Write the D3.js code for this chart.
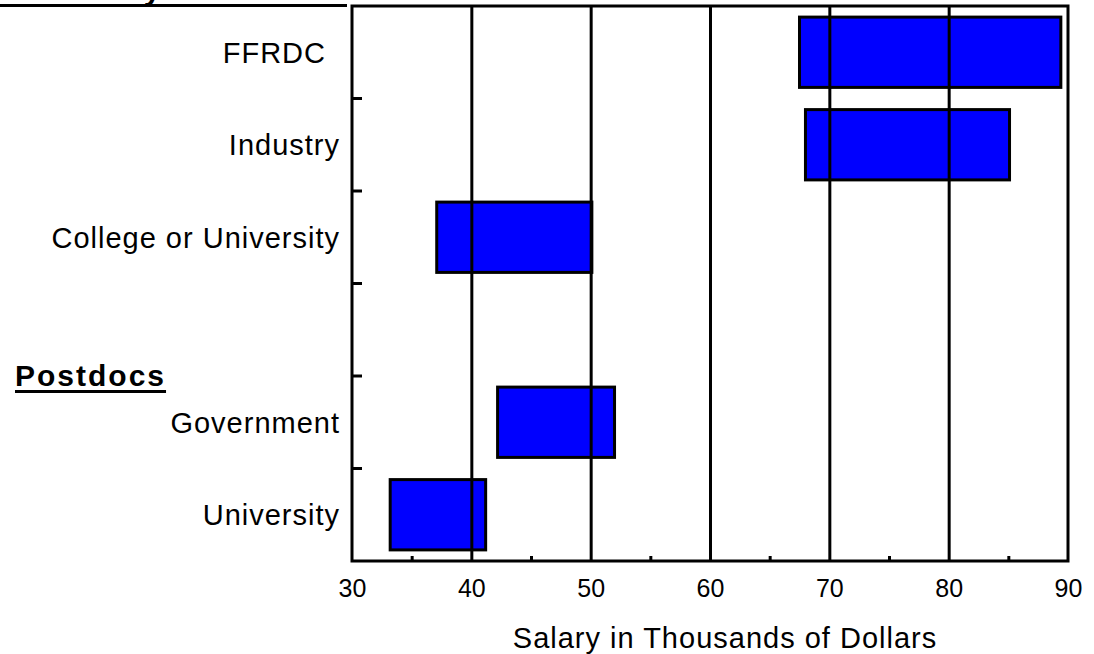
<!DOCTYPE html>
<html>
<head>
<meta charset="utf-8">
<script src="https://cdn.jsdelivr.net/npm/d3@7"></script>
<style>
  body { margin: 0; background: #ffffff; }
  text { font-family: "Liberation Sans", Arial, sans-serif; fill: #000000; }
</style>
</head>
<body>
<svg id="chart"></svg>
<script>
// Chart data
const categories = ["FFRDC", "Industry", "College or University", "", "Government", "University"];
const lowValues = [67.5, 68.0, 37.1, null, 42.2, 33.2];
const highValues = [89.4, 85.1, 50.1, null, 52.0, 41.2];
const xTickValues = [30, 40, 50, 60, 70, 80, 90];
const gridValues = [40, 50, 60, 70, 80];
const minorTickValues = [35, 45, 55, 65, 75, 85];
const groupLabels = ["Formerly Postdocs", "Postdocs"];
const axisTitle = "Salary in Thousands of Dollars";

// SVG dimensions
let width = 1094, height = 654;
let plotLeft = 352, plotRight = 1068, plotTop = 6, plotBottom = 561;

let svg = d3.select('#chart')
    .attr('width', width)
    .attr('height', height);

// Scales
let xScale = d3.scaleLinear()
    .domain([30, 90])
    .range([plotLeft, plotRight]);

let yScale = d3.scaleBand()
    .domain(categories)
    .range([plotTop, plotBottom])
    .padding(0);

let step = yScale.step();
let barHeight = step * 0.76;

// Rows built from the arrays
let rows = categories.map((c, i) => ({ name: c, low: lowValues[i], high: highValues[i] }));

// Bars
svg.append('g')
    .selectAll('rect')
    .data(rows.filter(d => d.low !== null))
    .enter()
    .append('rect')
    .attr('x', d => xScale(d.low))
    .attr('width', d => xScale(d.high) - xScale(d.low))
    .attr('y', d => yScale(d.name) + (step - barHeight) / 2)
    .attr('height', barHeight)
    .attr('fill', '#0000ff')
    .attr('stroke', '#000000')
    .attr('stroke-width', 3);

// Gridlines (drawn over the bars)
let grid = d3.axisBottom(xScale)
    .tickValues(gridValues)
    .tickSize(-(plotBottom - plotTop))
    .tickFormat('');
svg.append('g')
    .attr('transform', `translate(0, ${plotBottom})`)
    .call(grid)
    .call(g => g.select('.domain').remove())
    .call(g => g.selectAll('line').attr('stroke', '#000').attr('stroke-width', 3));

// Minor ticks
let minor = d3.axisBottom(xScale)
    .tickValues(minorTickValues)
    .tickSize(-5)
    .tickFormat('');
svg.append('g')
    .attr('transform', `translate(0, ${plotBottom})`)
    .call(minor)
    .call(g => g.select('.domain').remove())
    .call(g => g.selectAll('line').attr('stroke', '#000').attr('stroke-width', 3));

// X axis labels
let xAxis = d3.axisBottom(xScale)
    .tickValues(xTickValues)
    .tickSize(0)
    .tickFormat(d3.format('d'));
svg.append('g')
    .attr('transform', `translate(0, ${plotBottom})`)
    .call(xAxis)
    .call(g => g.select('.domain').remove())
    .call(g => g.selectAll('text')
        .attr('y', 36)
        .attr('dy', null)
        .attr('fill', '#000')
        .style('font-size', '25px')
        .style('font-family', '"Liberation Sans", Arial, sans-serif'));

// Frame
svg.append('rect')
    .attr('x', plotLeft)
    .attr('y', plotTop)
    .attr('width', plotRight - plotLeft)
    .attr('height', plotBottom - plotTop)
    .attr('fill', 'none')
    .attr('stroke', '#000')
    .attr('stroke-width', 3);

// Y ticks between the category slots
svg.append('g')
    .selectAll('line')
    .data(categories.slice(1))
    .enter()
    .append('line')
    .attr('x1', plotLeft)
    .attr('x2', plotLeft + 10)
    .attr('y1', d => yScale(d))
    .attr('y2', d => yScale(d))
    .attr('stroke', '#000')
    .attr('stroke-width', 3);

// Category labels
svg.append('g')
    .selectAll('text')
    .data(rows.filter(d => d.name !== ''))
    .enter()
    .append('text')
    .attr('x', d => d.name === 'FFRDC' ? 326 : 340)
    .attr('y', d => yScale(d.name) + step / 2 + 10.5)
    .attr('text-anchor', 'end')
    .style('font-size', '29px')
    .style('letter-spacing', '1px')
    .text(d => d.name);

// Group headings, bold and underlined
function heading(label, x, y, fitWidth) {
    let t = svg.append('text')
        .attr('x', x)
        .attr('y', y)
        .style('font-size', '30px')
        .style('font-weight', 'bold')
        .style('letter-spacing', '2px')
        .text(label);
    if (fitWidth) {
        t.attr('textLength', fitWidth).attr('lengthAdjust', 'spacing');
    }
    let w = fitWidth || t.node().getComputedTextLength();
    svg.append('rect')
        .attr('x', x)
        .attr('y', y + 4)
        .attr('width', w)
        .attr('height', 3)
        .attr('fill', '#000');
}
heading(groupLabels[0], 0, 0, 347);
heading(groupLabels[1], 15, 386);

// Axis title
svg.append('text')
    .attr('x', 725)
    .attr('y', 648)
    .attr('text-anchor', 'middle')
    .style('font-size', '29px')
    .style('letter-spacing', '1px')
    .text(axisTitle);
</script>
</body>
</html>
